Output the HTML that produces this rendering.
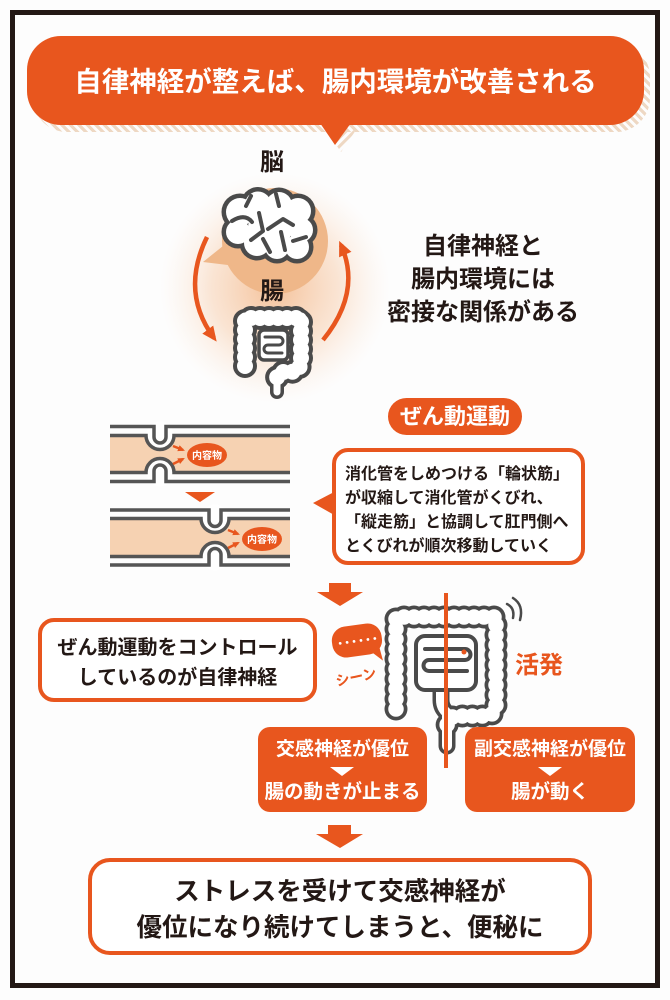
<!DOCTYPE html>
<html lang="ja">
<head>
<meta charset="utf-8">
<style>
  html,body{margin:0;padding:0;}
  body{width:670px;height:1000px;position:relative;background:#fdfdfd;overflow:hidden;
       font-family:"Liberation Sans","Noto Sans CJK JP",sans-serif;font-weight:700;}
  .abs{position:absolute;}
  .frame{left:10px;top:10px;width:650px;height:978px;border:5px solid #231815;box-sizing:border-box;}
  .tshadow{left:33px;top:43px;width:617px;height:89px;border-radius:34px;
       background:repeating-linear-gradient(45deg,#eed8c3 0 3px,rgba(255,255,255,0) 3px 6px);}
  .title{left:27px;top:36px;width:617px;height:89px;border-radius:34px;background:#e8561e;
       color:#fff;font-size:27.5px;line-height:91px;text-align:center;white-space:nowrap;}
  .lbl{color:#231815;text-align:center;white-space:nowrap;}
  .pill{left:388px;top:398px;width:134px;height:37px;border-radius:19px;background:#e8561e;color:#fff;
       font-size:22px;line-height:37px;text-align:center;white-space:nowrap;}
  .wbox{background:#fff;border:4px solid #e8561e;box-sizing:border-box;}
  .obox{background:#e8561e;border-radius:12px;color:#fff;text-align:center;white-space:nowrap;}
</style>
</head>
<body>

<div class="abs frame"></div>

<!-- title bubble -->
<div class="abs tshadow"></div>
<svg class="abs" style="left:0;top:0" width="670" height="1000" viewBox="0 0 670 1000">
  <defs>
    <pattern id="str" width="6" height="6" patternUnits="userSpaceOnUse" patternTransform="rotate(45)">
      <rect width="3" height="6" fill="#eed8c3"/>
    </pattern>
  </defs>
  <polygon points="326,130 356,130 341,152" fill="url(#str)"/>
</svg>
<div class="abs title">自律神経が整えば、腸内環境が改善される</div>

<svg class="abs" style="left:0;top:0" width="670" height="1000" viewBox="0 0 670 1000">
  <defs>
    <radialGradient id="glow" cx="275" cy="288" r="115" gradientUnits="userSpaceOnUse">
      <stop offset="0" stop-color="#f2ad78" stop-opacity="0.75"/>
      <stop offset="0.55" stop-color="#f6c6a0" stop-opacity="0.45"/>
      <stop offset="1" stop-color="#fbe2cf" stop-opacity="0"/>
    </radialGradient>
    <marker id="ah" viewBox="0 0 10 10" refX="7" refY="5" markerWidth="15" markerHeight="15" markerUnits="userSpaceOnUse" orient="auto">
      <path d="M0,0.5 L10,5 L0,9.5 z" fill="#e8561e"/>
    </marker>
    <marker id="ahs" viewBox="0 0 10 10" refX="7" refY="5" markerWidth="7" markerHeight="7" markerUnits="userSpaceOnUse" orient="auto">
      <path d="M0,0.5 L10,5 L0,9.5 z" fill="#e8561e"/>
    </marker>
  </defs>

  <!-- title tail -->
  <polygon points="320,123 351,123 335,145" fill="#e8561e"/>

  <!-- glow -->
  <circle cx="275" cy="288" r="115" fill="url(#glow)"/>

  <!-- brain circle -->
  <circle cx="275" cy="241" r="53" fill="#efb789"/>
  <polygon points="228,242 203,262 236,266" fill="#efb789"/>

  <!-- brain -->
  <g fill="#4a4a4a">
    <circle cx="240" cy="212" r="18.5"/><circle cx="258" cy="204.5" r="17.5"/>
    <circle cx="279" cy="205" r="17.5"/><circle cx="298" cy="211" r="17.5"/>
    <circle cx="301" cy="230" r="16.5"/><circle cx="297" cy="247" r="16.5"/>
    <circle cx="277" cy="247" r="16.5"/><circle cx="257" cy="243" r="17.5"/>
    <circle cx="238" cy="232" r="16.5"/><circle cx="270" cy="228" r="26"/>
  </g>
  <g fill="#ffffff">
    <circle cx="240" cy="212" r="14"/><circle cx="258" cy="204.5" r="13"/>
    <circle cx="279" cy="205" r="13"/><circle cx="298" cy="211" r="13"/>
    <circle cx="301" cy="230" r="12"/><circle cx="297" cy="247" r="12"/>
    <circle cx="277" cy="247" r="12"/><circle cx="257" cy="243" r="13"/>
    <circle cx="238" cy="232" r="12"/><circle cx="270" cy="228" r="22"/>
  </g>
  <g fill="none" stroke="#4a4a4a" stroke-width="4" stroke-linecap="round" stroke-linejoin="round">
    <path d="M232,221 Q245,213 252,222"/>
    <path d="M259,213 L263,231 L251,240"/>
    <path d="M268,229 L283,219 L293,225"/>
    <path d="M281,232 L285,250"/>
    <path d="M263,239 L270,252"/>
    <path d="M306,237 L293,241"/>
    <path d="M246,206 L251,196"/>
    <path d="M276,194 L279,206"/>
  </g>

  <!-- circular arrows -->
  <path d="M207,237 Q180,292 214,338" fill="none" stroke="#e8561e" stroke-width="4.5" marker-end="url(#ah)"/>
  <path d="M323,340 Q362,292 341,245" fill="none" stroke="#e8561e" stroke-width="4.5" marker-end="url(#ah)"/>

  <!-- small gut -->
  <g fill="none" stroke-linecap="round" stroke-linejoin="round">
    <path d="M245,366 V318 H301 V360 Q301,372 289,372 H284 Q277,372 277,379" stroke="#4a4a4a" stroke-width="24" stroke-dasharray="0 9"/>
    <path d="M245,366 V318 H301 V360 Q301,372 289,372 H284 Q277,372 277,379" stroke="#4a4a4a" stroke-width="18"/>
    <path d="M277,376 V392" stroke="#4a4a4a" stroke-width="14"/>
    <path d="M245,366 V318 H301 V360 Q301,372 289,372 H284 Q277,372 277,379" stroke="#fff" stroke-width="16" stroke-dasharray="0 9"/>
    <path d="M245,366 V318 H301 V360 Q301,372 289,372 H284 Q277,372 277,379" stroke="#fff" stroke-width="11"/>
    <path d="M277,376 V392" stroke="#fff" stroke-width="7"/>
  </g>
  <rect x="259" y="330" width="29" height="30" rx="5" fill="#fff" stroke="#4a4a4a" stroke-width="3.5"/>
  <path d="M265,337 H279 A4,4 0 0 1 279,345 H268 A4,4 0 0 0 268,353 H282" fill="none" stroke="#4a4a4a" stroke-width="3" stroke-linecap="round"/>

  <!-- tube 1 -->
  <rect x="110" y="435.5" width="180" height="37" fill="#f6d2b2"/>
  <circle cx="160" cy="435.5" r="14" fill="#fff"/>
  <circle cx="160" cy="472.5" r="14" fill="#fff"/>
  <g fill="none" stroke="#555" stroke-width="3.5">
    <path d="M110,426.5 H154 V437 A6,6 0 0 0 166,437 V426.5 H290"/>
    <path d="M110,435.5 H146 A14,14 0 0 0 174,435.5 H290"/>
    <path d="M110,481.5 H154 V471 A6,6 0 0 1 166,471 V481.5 H290"/>
    <path d="M110,472.5 H146 A14,14 0 0 1 174,472.5 H290"/>
  </g>
  <ellipse cx="207" cy="455" rx="20" ry="12" fill="#e8561e"/>
  <text x="207" y="459" font-size="10" fill="#fff" text-anchor="middle" font-family="Liberation Sans, Noto Sans CJK JP, sans-serif" font-weight="700">内容物</text>
  <g stroke="#e8561e" stroke-width="2.5" fill="none">
    <path d="M173,446 L183,450" marker-end="url(#ahs)"/>
    <path d="M173,464 L183,459" marker-end="url(#ahs)"/>
  </g>

  <!-- triangle between tubes -->
  <polygon points="185,492 215,492 200,502" fill="#e8561e"/>

  <!-- tube 2 -->
  <rect x="110" y="518.5" width="180" height="38" fill="#f6d2b2"/>
  <circle cx="215" cy="518.5" r="14" fill="#fff"/>
  <circle cx="215" cy="556.5" r="14" fill="#fff"/>
  <g fill="none" stroke="#555" stroke-width="3.5">
    <path d="M110,510 H209 V520.5 A6,6 0 0 0 221,520.5 V510 H290"/>
    <path d="M110,518.5 H201 A14,14 0 0 0 229,518.5 H290"/>
    <path d="M110,565 H209 V554.5 A6,6 0 0 1 221,554.5 V565 H290"/>
    <path d="M110,556.5 H201 A14,14 0 0 1 229,556.5 H290"/>
  </g>
  <ellipse cx="262" cy="539" rx="20" ry="12" fill="#e8561e"/>
  <text x="262" y="543" font-size="10" fill="#fff" text-anchor="middle" font-family="Liberation Sans, Noto Sans CJK JP, sans-serif" font-weight="700">内容物</text>
  <g stroke="#e8561e" stroke-width="2.5" fill="none">
    <path d="M228,530 L238,534" marker-end="url(#ahs)"/>
    <path d="M228,548 L238,543" marker-end="url(#ahs)"/>
  </g>

  <!-- speech tail for description box -->
  <polygon points="336,491 313,503 336,516" fill="#e8561e"/>

  <!-- block arrow 1 -->
  <polygon points="329,583 351,583 351,592 363,592 340,606 317,592 329,592" fill="#e8561e"/>

  <!-- big gut -->
  <g fill="none" stroke-linecap="round" stroke-linejoin="round">
    <path d="M396,709 V617 H496 V704 Q496,716 484,716 H458 Q447,716 447,727" stroke="#4a4a4a" stroke-width="23" stroke-dasharray="0 10"/>
    <path d="M396,709 V617 H496 V704 Q496,716 484,716 H458 Q447,716 447,727" stroke="#4a4a4a" stroke-width="17"/>
    <path d="M441,690 V700 Q441,708 447,713 V746" stroke="#4a4a4a" stroke-width="17"/>
    <path d="M396,709 V617 H496 V704 Q496,716 484,716 H458 Q447,716 447,727" stroke="#fff" stroke-width="15.5" stroke-dasharray="0 10"/>
    <path d="M396,709 V617 H496 V704 Q496,716 484,716 H458 Q447,716 447,727" stroke="#fff" stroke-width="10.5"/>
    <path d="M441,690 V700 Q441,708 447,713 V746" stroke="#fff" stroke-width="10"/>
  </g>
  <rect x="416" y="636" width="60" height="54" rx="9" fill="#fff" stroke="#4a4a4a" stroke-width="4"/>
  <path d="M425,649 H465 A5.5,5.5 0 0 1 465,660 H429 A5.5,5.5 0 0 0 429,671 H467" fill="none" stroke="#4a4a4a" stroke-width="4" stroke-linecap="round"/>
  <circle cx="464" cy="652" r="2.5" fill="#e8561e"/>
  <!-- vibration marks -->
  <g fill="none" stroke="#4a4a4a" stroke-width="2.5" stroke-linecap="round">
    <path d="M507,604 Q515,608 513,618"/>
    <path d="M513,598 Q524,605 520,620"/>
  </g>

  <!-- orange center line -->
  <rect x="444" y="593" width="4" height="175" fill="#e8561e"/>

  <!-- シーン bubble -->
  <g transform="rotate(-8 357 641)">
    <rect x="332" y="625" width="50" height="31" rx="14" fill="#e8561e"/>
    <polygon points="368,652 380,664 378,648" fill="#e8561e"/>
    <g fill="#fff">
      <circle cx="340" cy="641" r="1.4"/><circle cx="347" cy="641" r="1.4"/>
      <circle cx="354" cy="641" r="1.4"/><circle cx="361" cy="641" r="1.4"/>
      <circle cx="368" cy="641" r="1.4"/><circle cx="375" cy="641" r="1.4"/>
    </g>
  </g>
  <text x="356" y="682" font-size="14" fill="#e8561e" text-anchor="middle" transform="rotate(-12 356 677)" font-family="Liberation Sans, Noto Sans CJK JP, sans-serif" font-weight="700">シーン</text>

  <!-- block arrow 2 -->
  <polygon points="328,825 351,825 351,834 363,834 340,848 316,834 328,834" fill="#e8561e"/>
</svg>

<!-- labels -->
<div class="abs lbl" style="left:242px;top:148px;width:60px;font-size:24px;line-height:30px;">脳</div>
<div class="abs lbl" style="left:242px;top:277px;width:60px;font-size:24px;line-height:30px;">腸</div>
<div class="abs lbl" style="left:380px;top:230px;width:206px;font-size:24px;line-height:33px;">自律神経と<br>腸内環境には<br>密接な関係がある</div>

<!-- ぜん動運動 -->
<div class="abs pill">ぜん動運動</div>
<div class="abs wbox" style="left:332px;top:448px;width:253px;height:117px;border-radius:16px;"></div>
<div class="abs lbl" style="left:345px;top:463px;width:235px;text-align:left;font-size:16px;line-height:24px;">消化管をしめつける「輪状筋」<br>が収縮して消化管がくびれ、<br>「縦走筋」と協調して肛門側へ<br>とくびれが順次移動していく</div>

<!-- control box -->
<div class="abs wbox" style="left:38px;top:618px;width:279px;height:84px;border-radius:16px;"></div>
<div class="abs lbl" style="left:38px;top:633px;width:279px;font-size:20px;line-height:30px;">ぜん動運動をコントロール<br>しているのが自律神経</div>

<div class="abs" style="left:515px;top:650px;font-size:24px;line-height:32px;color:#e8561e;white-space:nowrap;">活発</div>

<!-- orange boxes -->
<div class="abs obox" style="left:258px;top:727px;width:169px;height:85px;">
  <div style="position:absolute;left:0;top:9px;width:100%;font-size:19px;line-height:28px;">交感神経が優位</div>
  <div style="position:absolute;left:72px;top:40px;width:0;height:0;border-left:12px solid transparent;border-right:12px solid transparent;border-top:9px solid #fff;"></div>
  <div style="position:absolute;left:0;top:51px;width:100%;font-size:19.5px;line-height:28px;">腸の動きが止まる</div>
</div>
<div class="abs obox" style="left:465px;top:727px;width:170px;height:85px;">
  <div style="position:absolute;left:0;top:9px;width:100%;font-size:19px;line-height:28px;">副交感神経が優位</div>
  <div style="position:absolute;left:73px;top:40px;width:0;height:0;border-left:12px solid transparent;border-right:12px solid transparent;border-top:9px solid #fff;"></div>
  <div style="position:absolute;left:0;top:51px;width:100%;font-size:19.5px;line-height:28px;">腸が動く</div>
</div>

<!-- bottom box -->
<div class="abs wbox" style="left:88px;top:858px;width:504px;height:97px;border-radius:22px;"></div>
<div class="abs lbl" style="left:88px;top:874px;width:504px;font-size:25.5px;line-height:36px;">ストレスを受けて交感神経が<br>優位になり続けてしまうと、便秘に</div>

</body>
</html>
